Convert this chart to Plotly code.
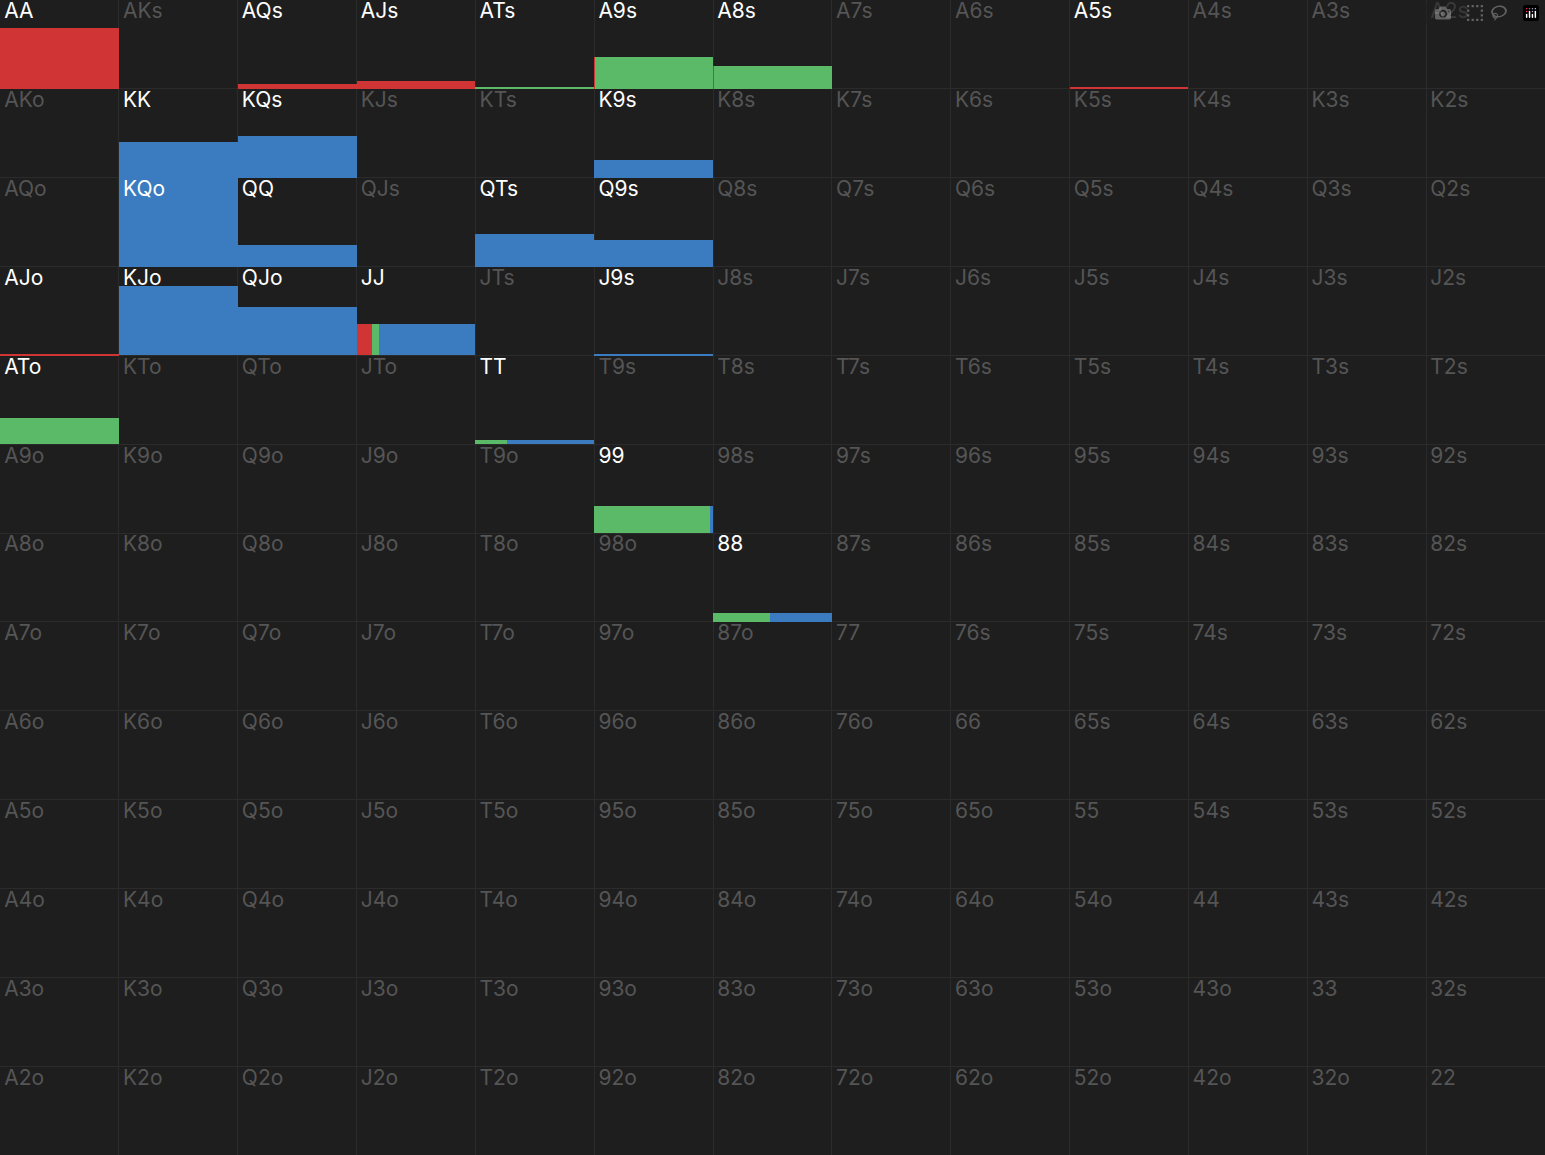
import plotly.graph_objects as go

ranks = ["A", "K", "Q", "J", "T", "9", "8", "7", "6", "5", "4", "3", "2"]

# hand -> bar height (share of cell) and split raise / call / other
hands = ["AA", "AQs", "AJs", "ATs", "A9s", "A8s", "A5s", "KK", "KQs", "K9s",
         "KQo", "QQ", "QTs", "Q9s", "AJo", "KJo", "QJo", "JJ", "J9s", "ATo",
         "TT", "99", "88"]
heights = [0.69, 0.06, 0.09, 0.015, 0.36, 0.26, 0.02, 0.40, 0.47, 0.20,
           1.0, 0.24, 0.37, 0.30, 0.02, 0.78, 0.54, 0.35, 0.02, 0.30,
           0.05, 0.30, 0.10]
red_share = [1, 1, 1, 0, 0.01, 0.01, 1, 0, 0, 0,
             0, 0, 0, 0, 1, 0, 0, 0.13, 0, 0,
             0, 0, 0]
green_share = [0, 0, 0, 1, 0.99, 0.99, 0, 0, 0, 0,
               0, 0, 0, 0, 0, 0, 0, 0.06, 0, 1,
               0.27, 0.97, 0.48]
blue_share = [0, 0, 0, 0, 0, 0, 0, 1, 1, 1,
              1, 1, 1, 1, 0, 1, 1, 0.81, 1, 0,
              0.73, 0.03, 0.52]

colors = ["#d13434", "#5bba67", "#3b7bc0"]


def hand_name(r, c):
    if r == c:
        return ranks[r] + ranks[c]
    if c > r:
        return ranks[r] + ranks[c] + "s"
    return ranks[c] + ranks[r] + "o"


fig = go.Figure()
all_shares = [red_share, green_share, blue_share]
for k, shares in enumerate(all_shares):
    xs, ws, bs, ys = [], [], [], []
    for i, h in enumerate(hands):
        if shares[i] <= 0:
            continue
        r = c = None
        for rr in range(13):
            for cc in range(13):
                if hand_name(rr, cc) == h:
                    r, c = rr, cc
        start = sum(all_shares[j][i] for j in range(k))
        xs.append(c + start + shares[i] / 2)
        ws.append(shares[i])
        bs.append(12 - r)
        ys.append(heights[i])
    fig.add_trace(go.Bar(x=xs, y=ys, base=bs, width=ws, marker_color=colors[k],
                         marker_line_width=0, hoverinfo="skip"))

tx, ty, tt, tc = [], [], [], []
for r in range(13):
    for c in range(13):
        h = hand_name(r, c)
        tx.append(c + 0.035)
        ty.append(13 - r - 0.03)
        tt.append(h)
        tc.append("#ffffff" if h in hands else "#555555")
fig.add_trace(go.Scatter(x=tx, y=ty, text=tt, mode="text", textposition="bottom right",
                         textfont=dict(family="Inter, Roboto, sans-serif", size=21, color=tc),
                         hoverinfo="skip"))

fig.update_layout(
    width=1545, height=1155, margin=dict(l=0, r=0, t=0, b=0),
    paper_bgcolor="#1e1e1e", plot_bgcolor="#1e1e1e", showlegend=False,
    barmode="overlay", bargap=0,
    xaxis=dict(range=[0, 13], dtick=1, tick0=0, showgrid=True, gridcolor="#2b2b2b",
               gridwidth=1, zeroline=False, showticklabels=False, fixedrange=True),
    yaxis=dict(range=[0, 13], dtick=1, tick0=0, showgrid=True, gridcolor="#2b2b2b",
               gridwidth=1, zeroline=False, showticklabels=False, fixedrange=True),
)
fig.write_html("out.html", post_script="document.body.style.margin='0';")
